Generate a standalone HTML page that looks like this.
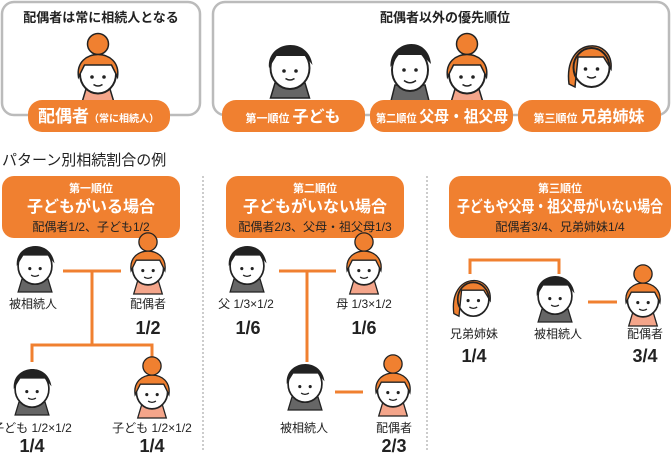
<!DOCTYPE html>
<html><head><meta charset="utf-8"><style>
body{margin:0;width:672px;height:454px;background:#fff;overflow:hidden}
svg text{font-family:"Liberation Sans","Noto Sans CJK JP",sans-serif}
</style></head><body>
<svg width="672" height="454" viewBox="0 0 672 454" xmlns="http://www.w3.org/2000/svg">
<defs>
<g id="boy">
<path d="M-13 20 L-10 10 L10 10 L13 20 Z" fill="#666" stroke="#222" stroke-width="1"/>
<ellipse cx="0" cy="0" rx="13" ry="14" fill="#fff" stroke="#222" stroke-width="1.3"/>
<path d="M-14 0 C-16 -18 12 -22 15 -2 L10 -8 L-9 -8 Z" fill="#222"/>
<circle cx="-4" cy="2" r="1.2" fill="#222"/><circle cx="4" cy="2" r="1.2" fill="#222"/>
<path d="M-3 7 Q0 9 3 7" stroke="#222" fill="none"/>
</g>
<g id="girl">
<path d="M-11 20 L-8 10 L8 10 L11 20 Z" fill="#f4a58a" stroke="#222" stroke-width="1"/>
<ellipse cx="0" cy="0" rx="12" ry="13" fill="#fff" stroke="#222" stroke-width="1.3"/>
<circle cx="0" cy="-20" r="7" fill="#f08030" stroke="#222" stroke-width="1"/>
<path d="M-13 2 C-16 -18 16 -18 13 2 L9 -6 L-9 -6 Z" fill="#f08030" stroke="#222" stroke-width="1"/>
<circle cx="-4" cy="2" r="1.2" fill="#222"/><circle cx="4" cy="2" r="1.2" fill="#222"/>
<path d="M-3 7 Q0 9 3 7" stroke="#222" fill="none"/>
</g>
<g id="sis">
<path d="M-14 12 C-18 -20 16 -20 14 2 L9 -6 L-8 -6 L-10 14 Z" fill="#f08030" stroke="#222" stroke-width="1"/>
<ellipse cx="1" cy="1" rx="12" ry="13" fill="none" stroke="#222" stroke-width="1.3"/>
<circle cx="-3" cy="2" r="1.2" fill="#222"/><circle cx="5" cy="2" r="1.2" fill="#222"/>
<path d="M-2 7 Q1 9 4 7" stroke="#222" fill="none"/>
</g>
</defs>
<rect x="2" y="2" width="198" height="113" rx="12" fill="none" stroke="#bbb" stroke-width="2.5"/>
<rect x="213" y="2" width="456" height="113" rx="12" fill="none" stroke="#bbb" stroke-width="2.5"/>
<text x="101" y="22" font-size="13" font-weight="bold" text-anchor="middle" fill="#222">配偶者は常に相続人となる</text>
<text x="445" y="22" font-size="13" font-weight="bold" text-anchor="middle" fill="#222">配偶者以外の優先順位</text>
<use href="#girl" transform="translate(98 74) scale(1.5)"/>
<use href="#boy" transform="translate(290 68) scale(1.5)"/>
<g transform="translate(410 70) scale(1.5)"><path d="M-13 22 L-10 10 L10 10 L13 22 Z" fill="#666" stroke="#222"/><ellipse cx="0" cy="0" rx="12" ry="14" fill="#fff" stroke="#222" stroke-width="1.3"/><path d="M-13 -2 C-14 -20 12 -24 14 -4 L8 -10 L-8 -10 Z" fill="#222"/><circle cx="-4" cy="0" r="1.2" fill="#222"/><circle cx="4" cy="0" r="1.2" fill="#222"/><path d="M-4 7 Q0 10 4 7" stroke="#222" fill="none"/></g>
<use href="#girl" transform="translate(467 74) scale(1.5)"/>
<use href="#sis" transform="translate(590 66) scale(1.5)"/>
<rect x="28" y="100" width="142" height="32" rx="14" fill="#f08030"/>
<text x="38" y="122" font-size="17" font-weight="bold" fill="#fff">配偶者<tspan font-size="10">（常に相続人）</tspan></text>
<rect x="222" y="100" width="143" height="32" rx="14" fill="#f08030"/>
<text x="293" y="122" font-size="11" font-weight="bold" fill="#fff" text-anchor="middle">第一順位 <tspan font-size="16">子ども</tspan></text>
<rect x="370" y="100" width="143" height="32" rx="14" fill="#f08030"/>
<text x="376" y="122" font-size="11" font-weight="bold" fill="#fff" textLength="132" lengthAdjust="spacingAndGlyphs">第二順位 <tspan font-size="16">父母・祖父母</tspan></text>
<rect x="518" y="100" width="143" height="32" rx="14" fill="#f08030"/>
<text x="589" y="122" font-size="11" font-weight="bold" fill="#fff" text-anchor="middle">第三順位 <tspan font-size="16">兄弟姉妹</tspan></text>
<text x="2" y="165" font-size="15" fill="#222">パターン別相続割合の例</text>
<line x1="203" y1="176" x2="203" y2="452" stroke="#bbb" stroke-width="1.5" stroke-dasharray="2 2"/>
<line x1="427" y1="176" x2="427" y2="452" stroke="#bbb" stroke-width="1.5" stroke-dasharray="2 2"/>
<rect x="2" y="176" width="178" height="62" rx="12" fill="#f08030"/>
<text x="91" y="192" font-size="11" font-weight="bold" fill="#fff" text-anchor="middle">第一順位</text>
<text x="91" y="212" font-size="16" font-weight="bold" fill="#fff" text-anchor="middle">子どもがいる場合</text>
<text x="91" y="231" font-size="12" fill="#222" text-anchor="middle">配偶者1/2、子ども1/2</text>
<rect x="226" y="176" width="178" height="62" rx="12" fill="#f08030"/>
<text x="315" y="192" font-size="11" font-weight="bold" fill="#fff" text-anchor="middle">第二順位</text>
<text x="315" y="212" font-size="16" font-weight="bold" fill="#fff" text-anchor="middle">子どもがいない場合</text>
<text x="315" y="231" font-size="12" fill="#222" text-anchor="middle">配偶者2/3、父母・祖父母1/3</text>
<rect x="449" y="176" width="222" height="62" rx="12" fill="#f08030"/>
<text x="560" y="192" font-size="11" font-weight="bold" fill="#fff" text-anchor="middle">第三順位</text>
<text x="457" y="212" font-size="16" font-weight="bold" fill="#fff" textLength="206" lengthAdjust="spacingAndGlyphs">子どもや父母・祖父母がいない場合</text>
<text x="560" y="231" font-size="12" fill="#222" text-anchor="middle">配偶者3/4、兄弟姉妹1/4</text>
<g stroke="#f08030" stroke-width="3" fill="none">
<path d="M63 271 H121 M92 271 V345 M32 362 V345 H152 V362"/>
<path d="M279 271 H336 M307 271 V362 M335 392 H363"/>
<path d="M470 274 V260 H559 V274 M588 302 H617"/>
</g>
<use href="#boy" transform="translate(35 266) scale(1.3)"/>
<text x="33" y="308" font-size="12" fill="#222" text-anchor="middle">被相続人</text>
<use href="#girl" transform="translate(148 268) scale(1.3)"/>
<text x="148" y="308" font-size="12" fill="#222" text-anchor="middle">配偶者</text>
<text x="148" y="334" font-size="18" font-weight="bold" fill="#222" text-anchor="middle">1/2</text>
<use href="#boy" transform="translate(32 389) scale(1.3)"/>
<text x="32" y="432" font-size="12" fill="#222" text-anchor="middle">子ども 1/2×1/2</text>
<text x="32" y="452" font-size="18" font-weight="bold" fill="#222" text-anchor="middle">1/4</text>
<use href="#girl" transform="translate(152 392) scale(1.3)"/>
<text x="152" y="432" font-size="12" fill="#222" text-anchor="middle">子ども 1/2×1/2</text>
<text x="152" y="452" font-size="18" font-weight="bold" fill="#222" text-anchor="middle">1/4</text>
<use href="#boy" transform="translate(247 266) scale(1.3)"/>
<text x="246" y="308" font-size="12" fill="#222" text-anchor="middle">父 1/3×1/2</text>
<text x="248" y="334" font-size="18" font-weight="bold" fill="#222" text-anchor="middle">1/6</text>
<use href="#girl" transform="translate(364 268) scale(1.3)"/>
<text x="364" y="308" font-size="12" fill="#222" text-anchor="middle">母 1/3×1/2</text>
<text x="364" y="334" font-size="18" font-weight="bold" fill="#222" text-anchor="middle">1/6</text>
<use href="#boy" transform="translate(305 384) scale(1.3)"/>
<text x="304" y="432" font-size="12" fill="#222" text-anchor="middle">被相続人</text>
<use href="#girl" transform="translate(393 390) scale(1.3)"/>
<text x="394" y="432" font-size="12" fill="#222" text-anchor="middle">配偶者</text>
<text x="394" y="452" font-size="18" font-weight="bold" fill="#222" text-anchor="middle">2/3</text>
<use href="#sis" transform="translate(472 298) scale(1.3)"/>
<text x="474" y="338" font-size="12" fill="#222" text-anchor="middle">兄弟姉妹</text>
<text x="474" y="362" font-size="18" font-weight="bold" fill="#222" text-anchor="middle">1/4</text>
<use href="#boy" transform="translate(555 296) scale(1.3)"/>
<text x="558" y="338" font-size="12" fill="#222" text-anchor="middle">被相続人</text>
<use href="#girl" transform="translate(643 300) scale(1.3)"/>
<text x="645" y="338" font-size="12" fill="#222" text-anchor="middle">配偶者</text>
<text x="645" y="362" font-size="18" font-weight="bold" fill="#222" text-anchor="middle">3/4</text>
</svg>
</body></html>
